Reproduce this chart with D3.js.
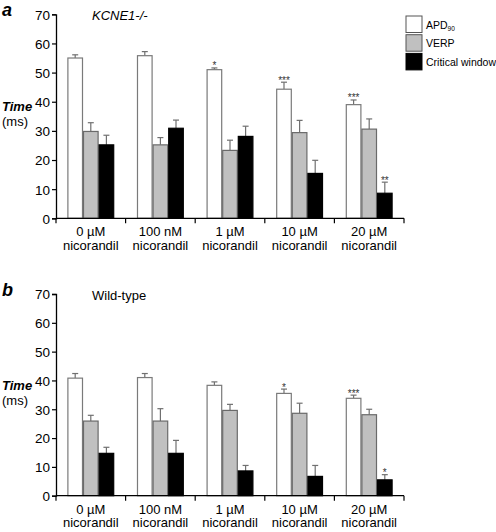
<!DOCTYPE html>
<html><head><meta charset="utf-8">
<script src="https://cdn.jsdelivr.net/npm/d3@7"></script>
<style>body{margin:0;background:#fff}svg{display:block}text{font-family:"Liberation Sans",Arial,sans-serif}</style>
</head><body><svg id="c" width="496" height="532"></svg>
<script>
const categories = [["0 µM","nicorandil"],["100 nM","nicorandil"],["1 µM","nicorandil"],["10 µM","nicorandil"],["20 µM","nicorandil"]];
const series = ["APD90","VERP","Critical window"];
const yTicks = [0,10,20,30,40,50,60,70];
// Panel a: KCNE1-/-
const aAPD = [55.0, 55.8, 51.0, 44.3, 39.0];
const aAPDerr = [1.1, 1.4, 0.6, 2.4, 1.6];
const aVERP = [29.8, 25.2, 23.3, 29.4, 30.6];
const aVERPerr = [3.0, 2.5, 3.5, 4.2, 3.5];
const aCW = [25.2, 30.9, 28.1, 15.4, 8.6];
const aCWerr = [3.3, 2.8, 3.5, 4.5, 3.8];
const aSig = [["","","*","***","***"],["","","","",""],["","","","","**"]];
// Panel b: Wild-type
const bAPD = [40.8, 41.0, 38.3, 35.5, 33.8];
const bAPDerr = [1.6, 1.4, 1.2, 1.5, 1.1];
const bVERP = [25.9, 25.9, 29.6, 28.6, 28.1];
const bVERPerr = [2.0, 4.3, 2.1, 3.5, 1.9];
const bCW = [14.7, 14.7, 8.6, 6.7, 5.5];
const bCWerr = [2.1, 4.5, 1.9, 3.8, 1.8];
const bSig = [["","","","*","***"],["","","","",""],["","","","","*"]];

const fills = ["#ffffff","#c0c0c0","#000000"];
const strokes = ["#7a7a7a","#6a6a6a","#000000"];
const svg = d3.select("#c");

function panel(opt){
  const g = svg.append("g");
  const x = d3.scaleBand().domain(d3.range(categories.length)).range([56,404]).paddingInner(0).paddingOuter(0);
  const xi = d3.scaleBand().domain(d3.range(series.length)).range([0,x.bandwidth()]).paddingInner(0).paddingOuter(0.73);
  const y = d3.scaleLinear().domain([0,70]).range([opt.y0,opt.y70]);
  const vals = [opt.apd,opt.verp,opt.cw], errs=[opt.apdE,opt.verpE,opt.cwE];
  const sg = [];
  series.forEach((s,si)=>{
    const gg = g.append("g");
    categories.forEach((c,ci)=>{
      const bx = x(ci)+xi(si), bw = xi.bandwidth(), v = vals[si][ci], e = errs[si][ci];
      const cx = bx+bw/2;
      gg.append("line").attr("x1",cx).attr("x2",cx).attr("y1",y(v)).attr("y2",y(v+e)).attr("stroke","#707070").attr("stroke-width",1.2);
      gg.append("line").attr("x1",cx-3).attr("x2",cx+3).attr("y1",y(v+e)).attr("y2",y(v+e)).attr("stroke","#707070").attr("stroke-width",1.2);
      gg.append("rect").attr("x",bx+0.5).attr("y",y(v)).attr("width",bw-1).attr("height",y(0)-y(v))
        .attr("fill",fills[si]).attr("stroke",strokes[si]).attr("stroke-width",1.2);
      const sig = opt.sig[si][ci];
      if(sig) sg.push({x:cx,y:y(v+e),t:sig});
    });
  });
  sg.forEach(d=>g.append("text").attr("x",d.x).attr("y",d.y+1.5).attr("text-anchor","middle").attr("font-size",10).attr("fill","#333").text(d.t));
  // y axis
  const ya = g.append("g").attr("transform","translate(56,0)").call(d3.axisLeft(y).tickValues(yTicks).tickSize(4).tickPadding(2));
  ya.select(".domain").attr("stroke","#000").attr("stroke-width",1.3);
  ya.selectAll(".tick line").attr("stroke","#000").attr("stroke-width",1.2);
  ya.selectAll(".tick text").attr("font-size",13.5).attr("fill","#000").attr("font-family","Liberation Sans, Arial").attr("dy","0.36em");
  // x axis
  const xa = g.append("g").attr("transform",`translate(0,${opt.y0})`);
  xa.append("line").attr("x1",56).attr("x2",404).attr("stroke","#000").attr("stroke-width",1.3);
  d3.range(categories.length+1).forEach(i=>{
    const tx = i<categories.length? x(i): x(categories.length-1)+x.bandwidth();
    xa.append("line").attr("x1",tx).attr("x2",tx).attr("y1",0).attr("y2",5).attr("stroke","#000").attr("stroke-width",1.2);
  });
  categories.forEach((c,ci)=>{
    const cx = x(ci)+x.bandwidth()/2;
    xa.append("text").attr("x",cx).attr("y",18).attr("text-anchor","middle").attr("font-size",13).attr("fill","#000").text(c[0]);
    xa.append("text").attr("x",cx).attr("y",31.5).attr("text-anchor","middle").attr("font-size",13).attr("fill","#000").text(c[1]);
  });
  // labels
  g.append("text").attr("x",2).attr("y",opt.y70+1.5).attr("font-size",18).attr("font-weight","bold").attr("font-style","italic").text(opt.letter);
  g.append("text").attr("x",opt.titleX).attr("y",opt.y70+6).attr("font-size",13).attr("font-style",opt.titleItalic?"italic":"normal").text(opt.title);
  const ym = (opt.y0+opt.y70)/2;
  g.append("text").attr("x",2).attr("y",ym-5).attr("font-size",13).attr("font-style","italic").attr("font-weight","bold").text("Time");
  g.append("text").attr("x",2).attr("y",ym+10).attr("font-size",13).text("(ms)");
}

panel({y0:218.3,y70:14.3,apd:aAPD,apdE:aAPDerr,verp:aVERP,verpE:aVERPerr,cw:aCW,cwE:aCWerr,sig:aSig,letter:"a",title:"KCNE1-/-",titleItalic:true,titleX:92});
panel({y0:495.7,y70:294,apd:bAPD,apdE:bAPDerr,verp:bVERP,verpE:bVERPerr,cw:bCW,cwE:bCWerr,sig:bSig,letter:"b",title:"Wild-type",titleItalic:false,titleX:92});

// legend
const lg = svg.append("g");
series.forEach((s,i)=>{
  const yy = 16+i*18.7;
  lg.append("rect").attr("x",406).attr("y",yy).attr("width",16).attr("height",16.5).attr("fill",fills[i]).attr("stroke",i===2?"#000":"#555").attr("stroke-width",1);
  const t = lg.append("text").attr("x",426).attr("y",yy+12.5).attr("font-size",10.5).attr("fill","#000");
  if(s==="APD90"){ t.append("tspan").text("APD"); t.append("tspan").attr("font-size",6.5).attr("dy",2.5).text("90"); }
  else t.text(s);
});
</script></body></html>
